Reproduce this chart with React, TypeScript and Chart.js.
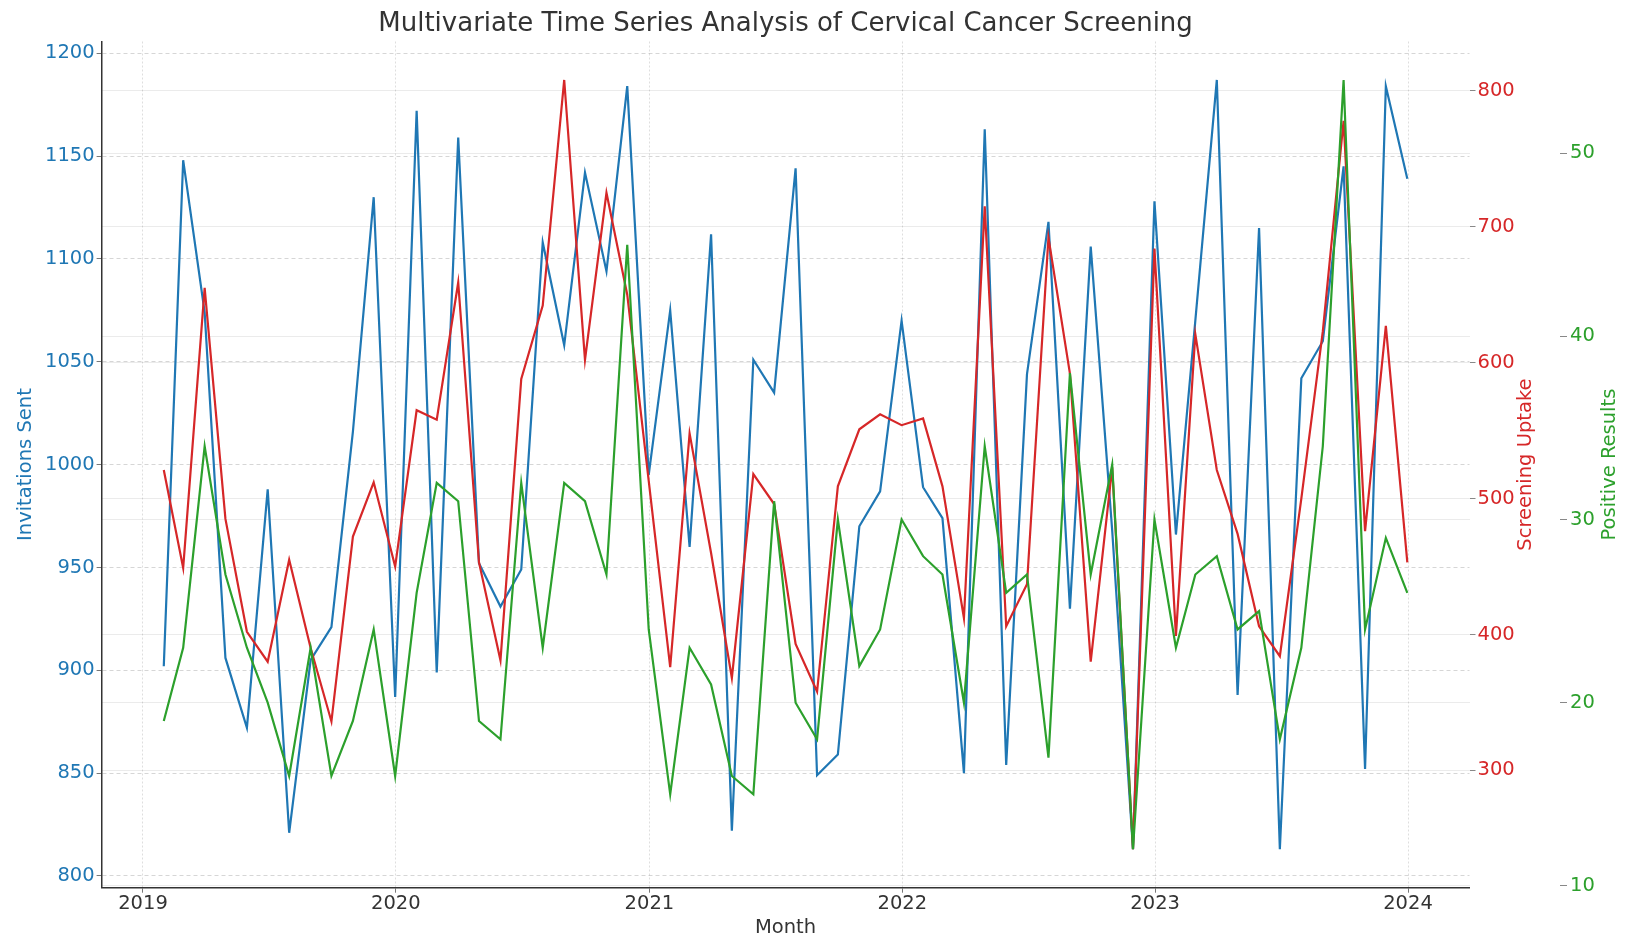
import React, { useEffect, useRef } from "react";
import { Chart, registerables } from "chart.js";

Chart.register(...registerables);

const months = [
  "2019-01-31", "2019-02-28", "2019-03-31", "2019-04-30", "2019-05-31", "2019-06-30",
  "2019-07-31", "2019-08-31", "2019-09-30", "2019-10-31", "2019-11-30", "2019-12-31",
  "2020-01-31", "2020-02-29", "2020-03-31", "2020-04-30", "2020-05-31", "2020-06-30",
  "2020-07-31", "2020-08-31", "2020-09-30", "2020-10-31", "2020-11-30", "2020-12-31",
  "2021-01-31", "2021-02-28", "2021-03-31", "2021-04-30", "2021-05-31", "2021-06-30",
  "2021-07-31", "2021-08-31", "2021-09-30", "2021-10-31", "2021-11-30", "2021-12-31",
  "2022-01-31", "2022-02-28", "2022-03-31", "2022-04-30", "2022-05-31", "2022-06-30",
  "2022-07-31", "2022-08-31", "2022-09-30", "2022-10-31", "2022-11-30", "2022-12-31",
  "2023-01-31", "2023-02-28", "2023-03-31", "2023-04-30", "2023-05-31", "2023-06-30",
  "2023-07-31", "2023-08-31", "2023-09-30", "2023-10-31", "2023-11-30", "2023-12-31",
];

const invitationsSent = [
  902, 1148, 1074, 906, 872, 988, 821, 905, 921, 1016, 1130, 887,
  1172, 899, 1159, 952, 931, 949, 1108, 1058, 1142, 1094, 1184, 995,
  1075, 960, 1112, 822, 1051, 1035, 1144, 849, 859, 970, 987, 1070,
  989, 974, 850, 1163, 854, 1044, 1118, 930, 1106, 968, 813, 1128,
  966, 1070, 1187, 888, 1115, 813, 1042, 1060, 1145, 852, 1184, 1139,
];

const screeningUptake = [
  521, 449, 655, 485, 402, 380, 455, 390, 336, 472, 512, 450,
  565, 558, 659, 453, 381, 588, 642, 808, 602, 725, 650, 513,
  376, 548, 460, 368, 518, 496, 393, 358, 509, 551, 562, 554,
  559, 509, 412, 715, 406, 437, 692, 592, 380, 523, 242, 684,
  399, 621, 521, 474, 406, 384, 500, 623, 778, 476, 627, 453,
];

const positiveResults = [
  19, 23, 34, 27, 23, 20, 16, 23, 16, 19, 24, 16,
  26, 32, 31, 19, 18, 32, 23, 32, 31, 27, 45, 24,
  15, 23, 21, 16, 15, 31, 20, 18, 30, 22, 24, 30,
  28, 27, 20, 34, 26, 27, 17, 38, 27, 33, 12, 30,
  23, 27, 28, 24, 25, 18, 23, 34, 54, 24, 29, 26,
];

const yearTicks = [2019, 2020, 2021, 2022, 2023, 2024];
const invitationTicks = [800, 850, 900, 950, 1000, 1050, 1100, 1150, 1200];
const uptakeTicks = [300, 400, 500, 600, 700, 800];
const positiveTicks = [10, 20, 30, 40, 50];

const BLUE = "#1f77b4";
const RED = "#d62728";
const GREEN = "#2ca02c";
const FONT = '"DejaVu Sans", sans-serif';
const TICK_SIZE = 19.5;

function padRange(values: number[], frac = 0.05): [number, number] {
  const lo = Math.min(...values);
  const hi = Math.max(...values);
  const m = (hi - lo) * frac;
  return [lo - m, hi + m];
}

const xs = months.map((d) => Date.parse(d + "T00:00:00Z"));

const rightTitles = {
  id: "rightTitles",
  afterDraw(chart: any) {
    const { ctx, scales, chartArea } = chart;
    const cy = (chartArea.top + chartArea.bottom) / 2;
    const draw = (text: string, x: number, color: string) => {
      ctx.save();
      ctx.translate(x, cy);
      ctx.rotate(-Math.PI / 2);
      ctx.font = `${TICK_SIZE}px ${FONT}`;
      ctx.fillStyle = color;
      ctx.textAlign = "center";
      ctx.textBaseline = "middle";
      ctx.fillText(text, 0, 0);
      ctx.restore();
    };
    draw("Screening Uptake", scales.y1.right - 34, RED);
    draw("Positive Results", scales.y2.right - 16, GREEN);
  },
};

const plain = (v: any) => String(v);

export default function App() {
  const ref = useRef<HTMLCanvasElement | null>(null);

  useEffect(() => {
    if (!ref.current) return;
    const [xMin, xMax] = padRange(xs);
    const [bMin, bMax] = padRange(invitationsSent);
    const [rMin, rMax] = padRange(screeningUptake);
    const [gMin, gMax] = padRange(positiveResults);
    const toPts = (vals: number[]) => vals.map((v, i) => ({ x: xs[i], y: v }));

    const chart = new Chart(ref.current, {
      type: "line",
      data: {
        datasets: [
          {
            label: "Invitations Sent",
            data: toPts(invitationsSent),
            borderColor: BLUE,
            backgroundColor: BLUE,
            borderWidth: 2.2,
            pointRadius: 0,
            yAxisID: "y",
            order: 3,
          },
          {
            label: "Screening Uptake",
            data: toPts(screeningUptake),
            borderColor: RED,
            backgroundColor: RED,
            borderWidth: 2.2,
            pointRadius: 0,
            yAxisID: "y1",
            order: 2,
          },
          {
            label: "Positive Results",
            data: toPts(positiveResults),
            borderColor: GREEN,
            backgroundColor: GREEN,
            borderWidth: 2.2,
            pointRadius: 0,
            yAxisID: "y2",
            order: 1,
          },
        ],
      },
      options: {
        responsive: false,
        animation: false,
        layout: { padding: 0 },
        plugins: {
          legend: { display: false },
          tooltip: { enabled: false },
          title: {
            display: true,
            fullSize: false,
            text: "Multivariate Time Series Analysis of Cervical Cancer Screening",
            color: "#333333",
            font: { family: FONT, size: 26, weight: "normal", lineHeight: 1.2 },
            padding: { top: 8.3, bottom: 2.0 },
          },
        },
        scales: {
          x: {
            type: "linear",
            position: "bottom",
            min: xMin,
            max: xMax,
            afterBuildTicks: (s: any) => {
              s.ticks = yearTicks.map((y) => ({ value: Date.UTC(y, 0, 1) }));
            },
            afterFit: (s: any) => {
              s.height = 49.3;
            },
            ticks: {
              autoSkip: false,
              maxRotation: 0,
              color: "#333333",
              font: { family: FONT, size: TICK_SIZE, lineHeight: 1.0 },
              padding: 1.0,
              callback: (v: any) => String(new Date(Number(v)).getUTCFullYear()),
            },
            grid: {
              color: "rgba(0,0,0,0.13)",
              lineWidth: 1,
              tickLength: 5,
              tickColor: "#777777",
            },
            border: { display: true, color: "#333333", width: 1.5, dash: [2, 2] },
            title: {
              display: true,
              text: "Month",
              color: "#333333",
              font: { family: FONT, size: TICK_SIZE, lineHeight: 1.0 },
              padding: { top: 0, bottom: -0.75 },
            },
          },
          y: {
            type: "linear",
            position: "left",
            min: bMin,
            max: bMax,
            afterBuildTicks: (s: any) => {
              s.ticks = invitationTicks.map((v) => ({ value: v }));
            },
            afterFit: (s: any) => {
              s.width = 101.6;
            },
            ticks: {
              color: BLUE,
              font: { family: FONT, size: TICK_SIZE },
              padding: 2,
              callback: plain,
            },
            grid: {
              color: "rgba(0,0,0,0.16)",
              lineWidth: 1,
              tickLength: 5,
              tickColor: "#777777",
            },
            border: { display: true, color: "#333333", width: 1.5, dash: [4, 3] },
            title: {
              display: true,
              text: "Invitations Sent",
              color: BLUE,
              font: { family: FONT, size: TICK_SIZE, lineHeight: 1.2 },
              padding: { top: 14.3, bottom: 0 },
            },
          },
          y1: {
            type: "linear",
            position: "right",
            weight: 1,
            min: rMin,
            max: rMax,
            afterBuildTicks: (s: any) => {
              s.ticks = uptakeTicks.map((v) => ({ value: v }));
            },
            afterFit: (s: any) => {
              s.width = 90.5;
            },
            ticks: {
              color: RED,
              font: { family: FONT, size: TICK_SIZE },
              padding: 2,
              callback: plain,
            },
            grid: {
              color: "rgba(0,0,0,0.08)",
              lineWidth: 1,
              tickLength: 6,
              tickColor: "#888888",
            },
            border: { display: false },
          },
          y2: {
            type: "linear",
            position: "right",
            weight: 2,
            min: gMin,
            max: gMax,
            afterBuildTicks: (s: any) => {
              s.ticks = positiveTicks.map((v) => ({ value: v }));
            },
            afterFit: (s: any) => {
              s.width = 66;
            },
            ticks: {
              color: GREEN,
              font: { family: FONT, size: TICK_SIZE },
              padding: 3,
              callback: plain,
            },
            grid: {
              color: "rgba(0,0,0,0.08)",
              lineWidth: 1,
              tickLength: 7,
              tickColor: "#888888",
            },
            border: { display: false },
          },
        },
      },
      plugins: [rightTitles],
    } as any);

    return () => chart.destroy();
  }, []);

  return (
    <div
      style={{
        position: "fixed",
        left: 0,
        top: 0,
        width: 1626,
        height: 937,
        background: "#ffffff",
      }}
    >
      <canvas ref={ref} width={1626} height={937} style={{ width: 1626, height: 937, display: "block" }} />
    </div>
  );
}
